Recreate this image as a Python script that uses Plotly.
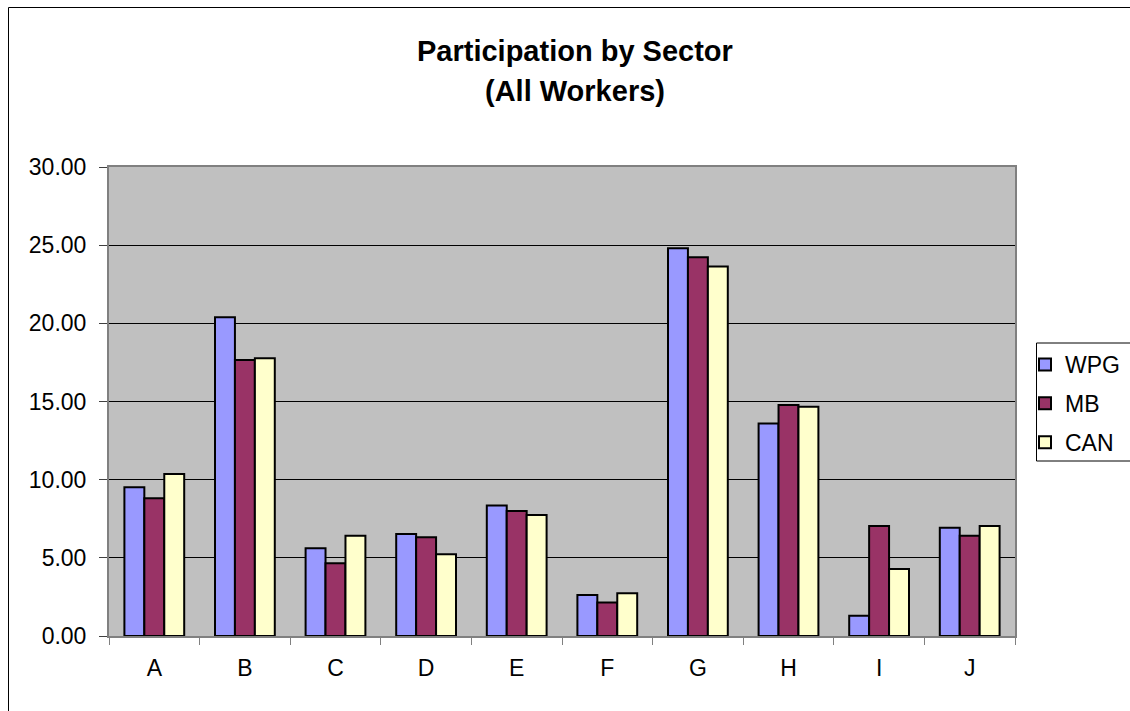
import plotly.graph_objects as go

categories = ["A", "B", "C", "D", "E", "F", "G", "H", "I", "J"]
wpg = [9.51, 20.39, 5.61, 6.53, 8.34, 2.62, 24.80, 13.60, 1.30, 6.93]
mb = [8.81, 17.66, 4.65, 6.31, 8.00, 2.15, 24.23, 14.78, 7.04, 6.42]
can = [10.36, 17.77, 6.42, 5.23, 7.74, 2.73, 23.63, 14.67, 4.29, 7.04]

series = [
    ("WPG", wpg, "#9999FF"),
    ("MB", mb, "#993366"),
    ("CAN", can, "#FFFFCC"),
]

W, H = 1130, 711
L, R, T, B = 109, 115, 167, 75
pw, ph = W - L - R, H - T - B


def px_x(x):
    return (x - L) / pw


def px_y(y):
    return (H - B - y) / ph


fig = go.Figure()
for name, vals, color in series:
    fig.add_trace(go.Bar(
        x=categories,
        y=vals,
        name=name,
        legendgroup=name,
        marker=dict(color=color, line=dict(color="black", width=2)),
    ))

fig.update_layout(
    width=W,
    height=H,
    margin=dict(l=L, r=R, t=T, b=B, autoexpand=False),
    paper_bgcolor="white",
    plot_bgcolor="#C0C0C0",
    barmode="group",
    bargap=0.34,
    bargroupgap=0,
    font=dict(family="Liberation Sans, Arial", size=23, color="black"),
    showlegend=True,
    legend=dict(
        xref="container",
        yref="container",
        x=1025 / W,
        y=1 - 343 / H,
        xanchor="left",
        yanchor="top",
        traceorder="grouped",
        tracegroupgap=6,
        bgcolor="rgba(0,0,0,0)",
        borderwidth=0,
        font=dict(size=23),
    ),
    xaxis=dict(
        showline=True,
        linecolor="#808080",
        linewidth=2,
        mirror=True,
        ticks="outside",
        tickson="boundaries",
        ticklen=7,
        tickcolor="#808080",
        showgrid=False,
        ticklabelstandoff=10,
        tickfont=dict(size=23),
    ),
    yaxis=dict(
        range=[0, 30],
        dtick=5,
        tickformat=".2f",
        showline=True,
        linecolor="#808080",
        linewidth=2,
        mirror=True,
        ticks="outside",
        ticklen=8,
        tickcolor="#404040",
        showgrid=True,
        gridcolor="black",
        gridwidth=1,
        zeroline=False,
        ticklabelstandoff=8,
        tickfont=dict(size=23),
    ),
    shapes=[
        # chart area border (runs off the right and bottom of the picture)
        dict(
            type="rect",
            xref="paper",
            yref="paper",
            x0=px_x(8.5),
            x1=px_x(W + 20),
            y0=px_y(H + 20),
            y1=px_y(7.5),
            line=dict(color="black", width=1),
            fillcolor="rgba(0,0,0,0)",
            layer="below",
        ),
        # legend box, drawn by hand so the text can sit close to the symbols
        dict(
            type="rect",
            xref="paper",
            yref="paper",
            x0=px_x(1036.5),
            x1=px_x(1150),
            y0=px_y(461),
            y1=px_y(343),
            line=dict(color="black", width=1),
            fillcolor="white",
            layer="above",
        ),
    ],
    annotations=[
        dict(
            text="<b>Participation by Sector</b>",
            xref="paper", yref="paper",
            x=px_x(575), y=px_y(51),
            showarrow=False, xanchor="center", yanchor="middle",
            font=dict(size=29),
        ),
        dict(
            text="<b>(All Workers)</b>",
            xref="paper", yref="paper",
            x=px_x(575), y=px_y(91),
            showarrow=False, xanchor="center", yanchor="middle",
            font=dict(size=29),
        ),
    ],
)

fig.write_html(
    "out.html",
    config={"displayModeBar": False},
    post_script="document.body.style.margin='0';document.body.style.overflow='hidden';",
)
